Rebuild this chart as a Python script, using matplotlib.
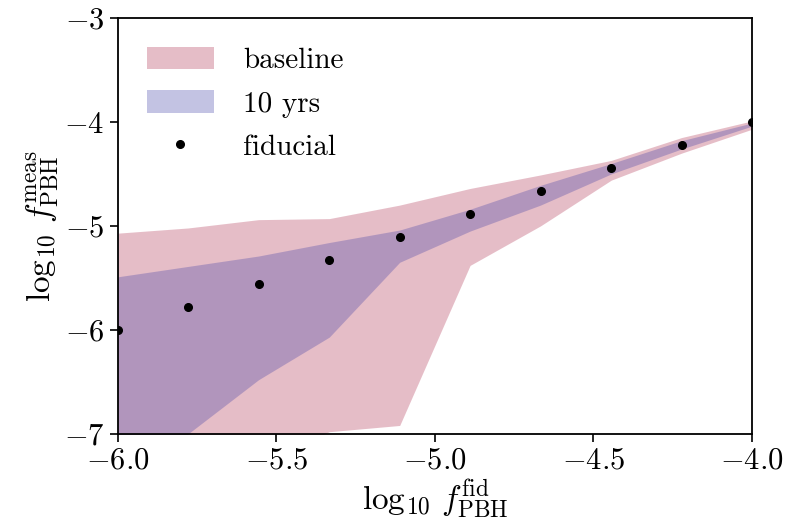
import numpy as np
import matplotlib
matplotlib.use('Agg')
import matplotlib.pyplot as plt

plt.rcParams['font.family'] = 'cmr10'
plt.rcParams['mathtext.fontset'] = 'cm'
plt.rcParams['axes.formatter.use_mathtext'] = True

# fiducial values of log10 f_PBH
x_fid = [-6.0, -5.778, -5.556, -5.333, -5.111, -4.889, -4.667, -4.444, -4.222, -4.0]
y_fid = [-6.0, -5.778, -5.556, -5.333, -5.111, -4.889, -4.667, -4.444, -4.222, -4.0]

# baseline band
base_lo = [-8.0, -7.6, -7.3, -6.98, -6.92, -5.38, -5.0, -4.56, -4.30, -4.07]
base_hi = [-5.07, -5.02, -4.94, -4.93, -4.80, -4.64, -4.51, -4.37, -4.15, -3.99]

# 10 yrs band
yrs_lo = [-7.6, -7.0, -6.48, -6.07, -5.35, -5.05, -4.80, -4.50, -4.26, -4.04]
yrs_hi = [-5.49, -5.39, -5.29, -5.16, -5.04, -4.84, -4.61, -4.40, -4.18, -4.01]

x_ticks = [-6.0, -5.5, -5.0, -4.5, -4.0]
y_ticks = [-7, -6, -5, -4, -3]

fig = plt.figure(figsize=(7.9, 5.29), dpi=100)
ax = fig.add_axes([0.149, 0.180, 0.803, 0.786])

ax.fill_between(x_fid, base_lo, base_hi, color=(172/255, 38/255, 72/255), alpha=0.3,
                linewidth=0, label='baseline')
ax.fill_between(x_fid, yrs_lo, yrs_hi, color=(58/255, 58/255, 165/255), alpha=0.3,
                linewidth=0, label='10 yrs')
ax.plot(x_fid, y_fid, 'o', color='black', markersize=5.5, linestyle='none', label='fiducial')

ax.set_xlim(-6, -4)
ax.set_ylim(-7, -3)
ax.set_xticks(x_ticks)
ax.set_yticks(y_ticks)
ax.xaxis.set_major_formatter(matplotlib.ticker.FormatStrFormatter(r'$%.1f$'))
ax.yaxis.set_major_formatter(matplotlib.ticker.FormatStrFormatter(r'$%d$'))
ax.tick_params(labelsize=22, length=6, width=1.2)
for s in ax.spines.values():
    s.set_linewidth(1.3)

ax.set_xlabel(r'$\log_{10}\, f_{\rm PBH}^{\rm fid}$', fontsize=24, labelpad=2)
ax.set_ylabel(r'$\log_{10}\, f_{\rm PBH}^{\rm meas}$', fontsize=24, labelpad=2)

ax.legend(loc='upper left', frameon=False, fontsize=21, handlelength=2.3,
          handleheight=0.8, labelspacing=0.55, handletextpad=1.0,
          borderaxespad=0.6)

fig.savefig('out.png', dpi=100)
